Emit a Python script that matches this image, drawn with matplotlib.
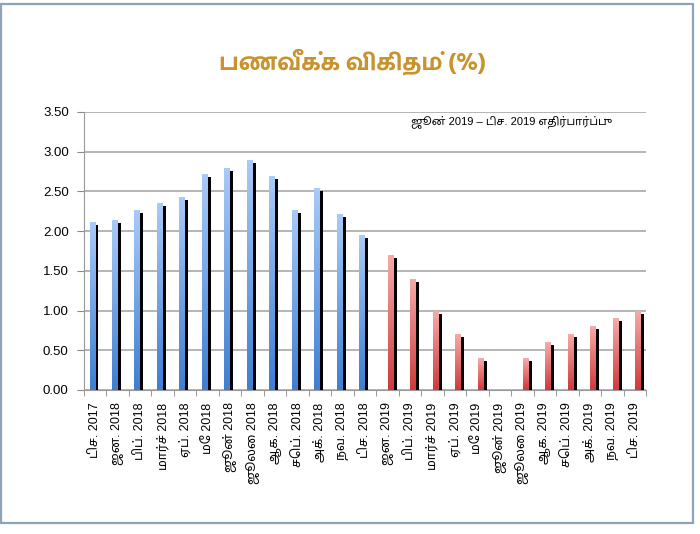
import matplotlib
matplotlib.use("Agg")
import numpy as np
from matplotlib import pyplot as plt
from matplotlib import patches, transforms
from matplotlib.colors import LinearSegmentedColormap

# month labels (tamil), one per category
months = ["டிச. 2017", "ஜன. 2018", "பிப். 2018", "மார்ச் 2018", "ஏப். 2018",
          "மே 2018", "ஜூன் 2018", "ஜூலை 2018", "ஆக. 2018", "செப். 2018",
          "அக். 2018", "நவ. 2018", "டிச. 2018",
          "ஜன. 2019", "பிப். 2019", "மார்ச் 2019", "ஏப். 2019", "மே 2019",
          "ஜூன் 2019", "ஜூலை 2019", "ஆக. 2019", "செப். 2019", "அக். 2019",
          "நவ. 2019", "டிச. 2019"]

# actual values dec 2017 - dec 2018
actual = [2.12, 2.14, 2.26, 2.36, 2.43, 2.72, 2.80, 2.89, 2.69, 2.27, 2.54, 2.21, 1.95]
# expected values jan 2019 - dec 2019
expected = [1.70, 1.40, 1.00, 0.70, 0.40, 0.00, 0.40, 0.60, 0.70, 0.80, 0.90, 1.00]

yticks = [0.0, 0.5, 1.0, 1.5, 2.0, 2.5, 3.0, 3.5]

title = "பணவீக்க விகிதம் (%)"
note = "ஜூன் 2019 – டிச. 2019 எதிர்பார்ப்பு"

FONT = ["Liberation Sans", "Noto Sans Tamil", "DejaVu Sans"]
TITLE_FONT = ["Hind Madurai", "Liberation Sans", "DejaVu Sans"]

fig = plt.figure(figsize=(7, 5.34), dpi=100)
ax = fig.add_axes([0.12, 0.2697, 0.803, 0.5206])

# outer frame
fig.patches.append(patches.Rectangle((1 / 700, 11 / 534), 692 / 700, 519 / 534,
                                     transform=fig.transFigure, fill=False,
                                     edgecolor="#8ea2b8", linewidth=1.6))

n_act = len(actual)
x_act = np.arange(n_act)
x_exp = np.arange(n_act, n_act + len(expected))

blue = LinearSegmentedColormap.from_list("b", ["#3f7ed2", "#a8cbf7"])
red = LinearSegmentedColormap.from_list("r", ["#d03a3a", "#f7aaaa"])
grad = np.linspace(0, 1, 64).reshape(-1, 1)

w = 0.26
shadow = transforms.offset_copy(ax.transData, fig=fig, x=3, y=-3, units="dots")


def draw(xs, vals, off, cmap):
    xs = xs + off
    ax.bar(xs, vals, w, color="black", transform=shadow, zorder=3)
    bars = ax.bar(xs, vals, w, color="none", zorder=4)
    for b, v in zip(bars, vals):
        if v <= 0:
            continue
        im = ax.imshow(grad, cmap=cmap, origin="lower", aspect="auto",
                       extent=(b.get_x(), b.get_x() + w, 0, v), zorder=4)
        im.set_clip_path(b)


draw(x_act, actual, -0.125, blue)
draw(x_exp, expected, 0.15, red)

ax.set_xlim(-0.5, len(months) - 0.5)
ax.set_ylim(0, 3.5)
ax.set_yticks(yticks)
ax.set_yticklabels(["%.2f" % v for v in yticks], family=FONT, fontsize=9.5)
ax.yaxis.grid(True, color="#a0a0a0", linewidth=1.1)
ax.set_axisbelow(True)

ax.set_xticks(np.arange(len(months)))
ax.set_xticklabels(months, rotation=90, family=FONT, fontsize=9)
ax.set_xticks(np.arange(len(months) + 1) - 0.5, minor=True)
ax.tick_params(axis="x", which="major", length=0, pad=9)
ax.tick_params(axis="x", which="minor", length=4, color="#888888")
ax.tick_params(axis="y", length=5, color="#888888", pad=6)

for s in ["top", "right"]:
    ax.spines[s].set_visible(False)
ax.spines["left"].set_color("#999999")
ax.spines["bottom"].set_color("#999999")

fig.text(0.503, 0.884, title, ha="center", va="center", family=TITLE_FONT,
         fontsize=16.5, fontweight="bold", color="#c8922c")
ax.text(0.76, 0.965, note, transform=ax.transAxes, ha="center", va="center",
        family=FONT, fontsize=8)

fig.savefig("out.png")
